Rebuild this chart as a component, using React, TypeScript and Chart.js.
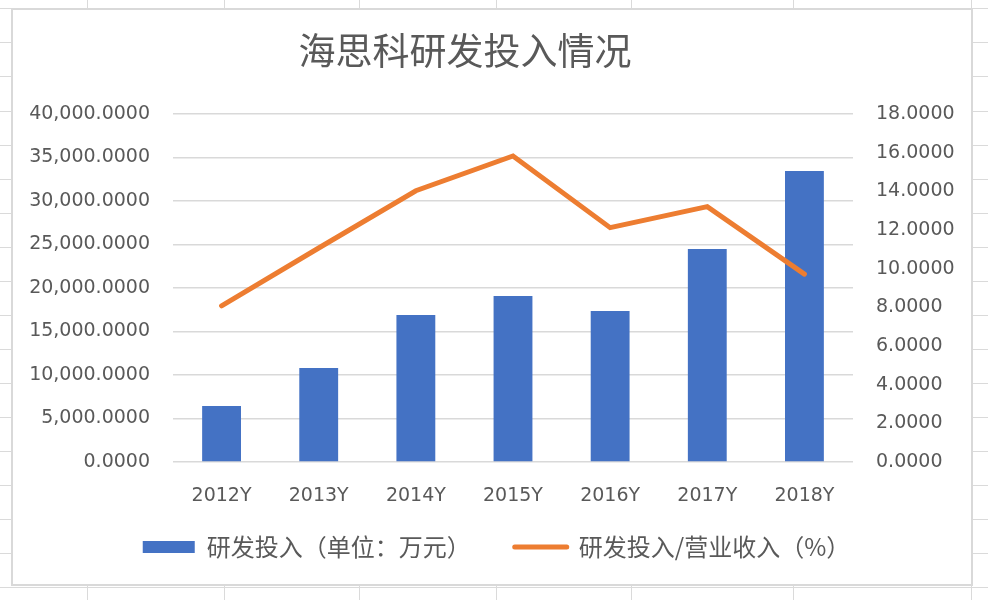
import React, { useEffect, useRef } from 'react';
import { Chart, registerables } from 'chart.js';

Chart.register(...registerables);

const titleText = '海思科研发投入情况';
const categories = ['2012Y', '2013Y', '2014Y', '2015Y', '2016Y', '2017Y', '2018Y'];
const rdLabel = '研发投入（单位：万元）';
const ratioLabel = '研发投入/营业收入（%）';
const rdSpend = [6440, 10800, 16900, 19080, 17360, 24480, 33450];
const rdRatio = [8.08, 11.07, 14.03, 15.83, 12.12, 13.21, 9.72];
const leftMax = 40000;
const leftStep = 5000;
const rightMax = 18;
const rightStep = 2;

const BLUE = '#4472C4';
const ORANGE = '#ED7D31';
const TEXT = '#595959';
const GRID = '#d9d9d9';
const TICK_FONT = { family: "'DejaVu Sans'", size: 19 };
const CJK = "'Noto Sans CJK SC'";

const sheetCols = [87, 224, 359, 496, 631, 793, 971];
const sheetRows = Array.from({ length: 18 }, (_, i) => 8.4 + i * 34.04);

const titlePlugin = {
  id: 'offsetTitle',
  afterDraw(chart: any) {
    const { ctx } = chart;
    ctx.save();
    ctx.font = `37px ${CJK}`;
    ctx.fillStyle = TEXT;
    ctx.textAlign = 'center';
    ctx.textBaseline = 'middle';
    ctx.fillText(titleText, 452, 41);
    ctx.restore();
  },
};

export default function App() {
  const ref = useRef<HTMLCanvasElement>(null);

  useEffect(() => {
    if (!ref.current) return;
    const chart = new Chart(ref.current, {
      data: {
        labels: categories,
        datasets: [
          {
            type: 'line',
            label: ratioLabel,
            data: rdRatio,
            yAxisID: 'y1',
            borderColor: ORANGE,
            backgroundColor: ORANGE,
            borderWidth: 5,
            borderCapStyle: 'round',
            borderJoinStyle: 'miter',
            pointRadius: 0,
            tension: 0,
            order: 0,
          },
          {
            type: 'bar',
            label: rdLabel,
            data: rdSpend,
            yAxisID: 'y',
            backgroundColor: BLUE,
            barPercentage: 0.4,
            categoryPercentage: 1,
            order: 1,
          },
        ],
      } as any,
      plugins: [titlePlugin],
      options: {
        responsive: false,
        animation: false,
        layout: { padding: { top: 104, left: 9, right: 0, bottom: 15 } },
        plugins: {
          title: { display: false },
          tooltip: { enabled: false },
          legend: {
            display: true,
            position: 'bottom',
            labels: {
              usePointStyle: true,
              pointStyleWidth: 52,
              boxHeight: 12,
              padding: 32,
              color: TEXT,
              font: { family: CJK, size: 24 },
              generateLabels: () => [
                {
                  text: rdLabel + '\u2002',
                  fillStyle: BLUE,
                  strokeStyle: BLUE,
                  lineWidth: 0,
                  pointStyle: 'rect',
                  hidden: false,
                  datasetIndex: 1,
                  fontColor: TEXT,
                },
                {
                  text: ratioLabel,
                  fillStyle: ORANGE,
                  strokeStyle: ORANGE,
                  lineWidth: 5,
                  lineCap: 'round',
                  pointStyle: 'line',
                  hidden: false,
                  datasetIndex: 0,
                  fontColor: TEXT,
                },
              ],
            },
          },
        },
        scales: {
          x: {
            grid: { display: false, drawTicks: false },
            border: { display: false },
            ticks: { color: TEXT, font: TICK_FONT, padding: 23, maxRotation: 0 },
            afterFit: (s: any) => {
              s.height = 41;
            },
          },
          y: {
            position: 'left',
            min: 0,
            max: leftMax,
            grid: { color: GRID, lineWidth: 1.5, drawTicks: false },
            border: { display: false },
            ticks: {
              stepSize: leftStep,
              color: TEXT,
              font: TICK_FONT,
              padding: 23,
              callback: (v: any) =>
                Number(v).toLocaleString('en-US', { minimumFractionDigits: 4, maximumFractionDigits: 4 }),
            },
            afterFit: (s: any) => {
              s.width = 151;
            },
          },
          y1: {
            position: 'right',
            min: 0,
            max: rightMax,
            grid: { drawOnChartArea: false, drawTicks: false },
            border: { display: false },
            ticks: {
              stepSize: rightStep,
              color: TEXT,
              font: TICK_FONT,
              padding: 23,
              callback: (v: any) => Number(v).toFixed(4),
            },
            afterFit: (s: any) => {
              s.width = 118;
            },
          },
        },
      } as any,
    });
    return () => chart.destroy();
  }, []);

  return (
    <div style={{ position: 'absolute', left: 0, top: 0, width: 988, height: 600, background: '#fff', overflow: 'hidden' }}>
      {sheetCols.map((x) => (
        <div key={'c' + x} style={{ position: 'absolute', left: x, top: 0, width: 1, height: 600, background: '#dadada' }} />
      ))}
      {sheetRows.map((y) => (
        <div key={'r' + y} style={{ position: 'absolute', left: 0, top: Math.round(y), width: 988, height: 1, background: '#dadada' }} />
      ))}
      <div
        style={{
          position: 'absolute',
          left: 11,
          top: 8,
          width: 962,
          height: 578,
          boxSizing: 'border-box',
          border: '2px solid #d9d9d9',
          background: '#fff',
        }}
      >
        <canvas ref={ref} width={958} height={574} style={{ display: 'block', width: 958, height: 574 }} />
      </div>
    </div>
  );
}
